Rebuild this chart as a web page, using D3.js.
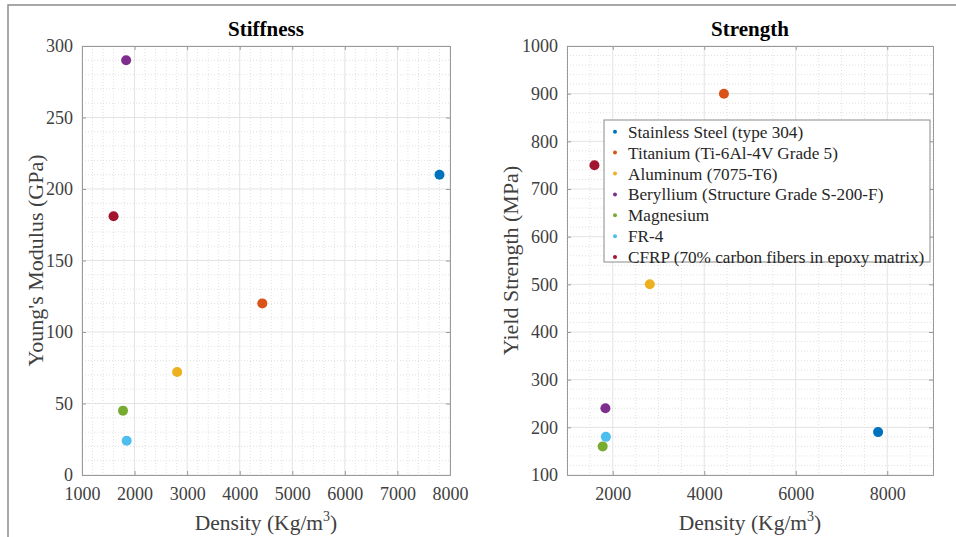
<!DOCTYPE html>
<html>
<head>
<meta charset="utf-8">
<script src="https://cdn.jsdelivr.net/npm/d3@7"></script>
<style>
  html, body { margin: 0; padding: 0; background: #fff; }
  svg { display: block; }
  text { font-family: "Liberation Serif", "Times New Roman", serif; }
</style>
</head>
<body>
<svg id="chart" width="956" height="537"></svg>
<script>
// ---- Data ----
const materials = [
  "Stainless Steel (type 304)",
  "Titanium (Ti-6Al-4V Grade 5)",
  "Aluminum (7075-T6)",
  "Beryllium (Structure Grade S-200-F)",
  "Magnesium",
  "FR-4",
  "CFRP (70% carbon fibers in epoxy matrix)"
];
const density = [7800, 4430, 2810, 1840, 1780, 1850, 1600];       // Kg/m^3
const youngsModulus = [210, 120, 72, 290, 45, 24, 181];            // GPa
const yieldStrength = [190, 900, 500, 240, 160, 180, 750];         // MPa
const colors = ["#0072BD", "#D95319", "#EDB120", "#7E2F8E", "#77AC30", "#4DBEEE", "#A2142F"];

const leftXTicks = [1000, 2000, 3000, 4000, 5000, 6000, 7000, 8000];
const leftYTicks = [0, 50, 100, 150, 200, 250, 300];
const rightXTicks = [2000, 4000, 6000, 8000];
const rightYTicks = [100, 200, 300, 400, 500, 600, 700, 800, 900, 1000];

const svg = d3.select("#chart");

// outer frame
svg.append("path")
  .attr("d", "M8,537 L8,5 L956,5")
  .attr("fill", "none").attr("stroke", "#8c8c8c").attr("stroke-width", 1.5);

function panel(opts) {
  const { x0, x1, y0, y1, xDomain, yDomain, xTicks, yTicks, xMinorStep, yMinorStep, yValues, title, yLabel } = opts;
  const x = d3.scaleLinear().domain(xDomain).range([x0, x1]);
  const y = d3.scaleLinear().domain(yDomain).range([y1, y0]);
  const g = svg.append("g");

  // minor grid
  const xMinor = d3.range(xDomain[0], xDomain[1] + 1e-9, xMinorStep).filter(v => !xTicks.includes(v));
  const yMinor = d3.range(yDomain[0], yDomain[1] + 1e-9, yMinorStep).filter(v => !yTicks.includes(v));
  g.selectAll(".xminor").data(xMinor).join("line")
    .attr("x1", d => x(d)).attr("x2", d => x(d)).attr("y1", y0).attr("y2", y1)
    .attr("stroke", "#d9d9d9").attr("stroke-width", 0.8).attr("stroke-dasharray", "1,2");
  g.selectAll(".yminor").data(yMinor).join("line")
    .attr("y1", d => y(d)).attr("y2", d => y(d)).attr("x1", x0).attr("x2", x1)
    .attr("stroke", "#d9d9d9").attr("stroke-width", 0.8).attr("stroke-dasharray", "1,2");
  // major grid
  g.selectAll(".xmajor").data(xTicks).join("line")
    .attr("x1", d => x(d)).attr("x2", d => x(d)).attr("y1", y0).attr("y2", y1)
    .attr("stroke", "#e3e3e3").attr("stroke-width", 1);
  g.selectAll(".ymajor").data(yTicks).join("line")
    .attr("y1", d => y(d)).attr("y2", d => y(d)).attr("x1", x0).attr("x2", x1)
    .attr("stroke", "#e3e3e3").attr("stroke-width", 1);

  // axes (ticks inward)
  const fmt = d3.format("d");
  const ax = g.append("g").attr("transform", `translate(0,${y1})`)
    .call(d3.axisBottom(x).tickValues(xTicks).tickFormat(fmt).tickSize(-4).tickPadding(12));
  const axT = g.append("g").attr("transform", `translate(0,${y0})`)
    .call(d3.axisTop(x).tickValues(xTicks).tickFormat("").tickSize(-4));
  const ay = g.append("g").attr("transform", `translate(${x0},0)`)
    .call(d3.axisLeft(y).tickValues(yTicks).tickFormat(fmt).tickSize(-4).tickPadding(9));
  const ayR = g.append("g").attr("transform", `translate(${x1},0)`)
    .call(d3.axisRight(y).tickValues(yTicks).tickFormat("").tickSize(-4));
  [ax, axT, ay, ayR].forEach(a => {
    a.select(".domain").attr("stroke", "#9a9a9a").attr("stroke-width", 1);
    a.selectAll(".tick line").attr("stroke", "#9a9a9a");
    a.selectAll(".tick text").attr("fill", "#404040").style("font-size", "18px")
      .style("font-family", "'Liberation Serif', serif");
  });

  // points
  g.selectAll(".pt").data(density).join("circle")
    .attr("cx", d => x(d)).attr("cy", (d, i) => y(yValues[i]))
    .attr("r", 5).attr("fill", (d, i) => colors[i]);

  // title
  g.append("text").attr("x", (x0 + x1) / 2).attr("y", y0 - 10)
    .attr("text-anchor", "middle").style("font-size", "21px").style("font-weight", "bold")
    .attr("fill", "#000").text(title);

  // x label
  const xl = g.append("text").attr("x", (x0 + x1) / 2).attr("y", y1 + 55)
    .attr("text-anchor", "middle").style("font-size", "21.5px").attr("fill", "#404040");
  xl.append("tspan").text("Density (Kg/m");
  xl.append("tspan").attr("dy", -9).style("font-size", "14px").text("3");
  xl.append("tspan").attr("dy", 9).text(")");

  // y label
  g.append("text").attr("transform", `translate(${opts.yLabelX},${(y0 + y1) / 2}) rotate(-90)`)
    .attr("text-anchor", "middle").attr("dy", "0.35em").style("font-size", "22px").attr("fill", "#404040")
    .text(yLabel);
  return { x, y, g };
}

panel({
  x0: 82, x1: 450, y0: 46, y1: 475,
  xDomain: [1000, 8000], yDomain: [0, 300],
  xTicks: leftXTicks, yTicks: leftYTicks, xMinorStep: 200, yMinorStep: 10,
  yValues: youngsModulus, title: "Stiffness", yLabel: "Young's Modulus (GPa)", yLabelX: 35
});

panel({
  x0: 567, x1: 933, y0: 46, y1: 475,
  xDomain: [1000, 9000], yDomain: [100, 1000],
  xTicks: rightXTicks, yTicks: rightYTicks, xMinorStep: 500, yMinorStep: 20,
  yValues: yieldStrength, title: "Strength", yLabel: "Yield Strength (MPa)", yLabelX: 510
});

// legend
const lg = svg.append("g").attr("transform", "translate(604,120)");
lg.append("rect").attr("width", 326).attr("height", 142)
  .attr("fill", "#fff").attr("stroke", "#8a8a8a").attr("stroke-width", 1);
const rows = lg.selectAll(".row").data(materials).join("g")
  .attr("transform", (d, i) => `translate(0,${11.7 + i * 20.9})`);
rows.append("circle").attr("cx", 11).attr("cy", 0).attr("r", 2).attr("fill", (d, i) => colors[i]);
rows.append("text").attr("x", 24).attr("dy", "0.35em").style("font-size", "17.2px")
  .attr("fill", "#262626").text(d => d);
</script>
</body>
</html>
